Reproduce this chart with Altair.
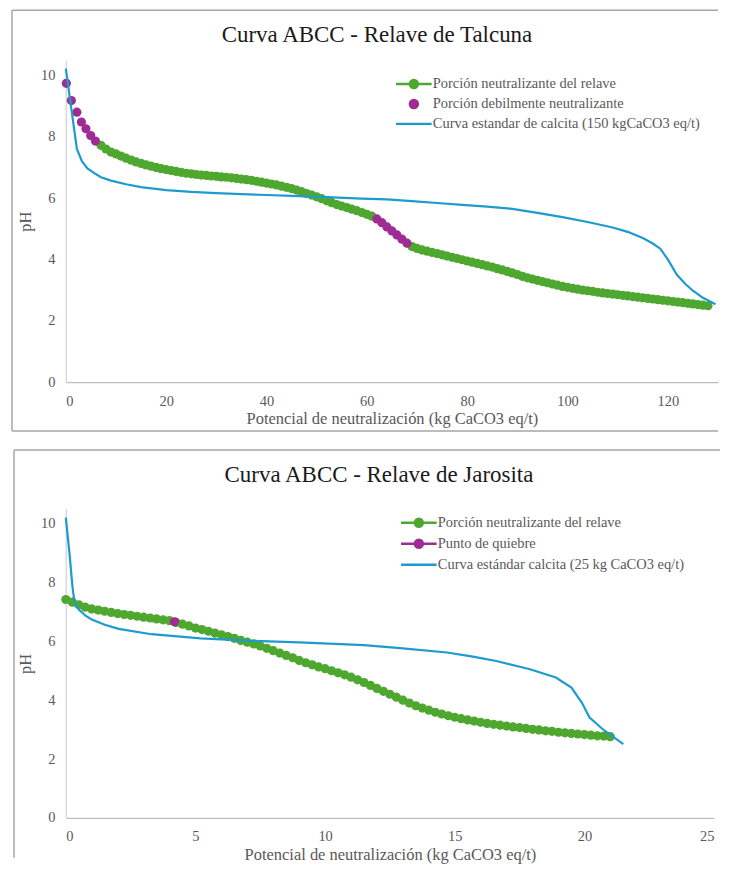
import altair as alt
import pandas as pd

# ---------------- Talcuna (top) ----------------
tal_green_x = list(range(7, 62)) + list(range(69, 129))
tal_green_ph = [
    7.72, 7.60, 7.50, 7.44, 7.37, 7.30, 7.24, 7.18, 7.13, 7.08,
    7.04, 7.00, 6.96, 6.93, 6.90, 6.87, 6.84, 6.81, 6.79, 6.77,
    6.75, 6.74, 6.72, 6.71, 6.69, 6.68, 6.66, 6.64, 6.62, 6.60,
    6.58, 6.55, 6.52, 6.49, 6.46, 6.43, 6.39, 6.35, 6.31, 6.26,
    6.21, 6.15, 6.10, 6.04, 5.98, 5.91, 5.85, 5.79, 5.74, 5.69,
    5.64, 5.59, 5.53, 5.47, 5.41,
    4.42, 4.36, 4.31, 4.27, 4.23, 4.19, 4.15, 4.11, 4.07, 4.03,
    3.99, 3.95, 3.91, 3.87, 3.83, 3.79, 3.75, 3.70, 3.66, 3.61,
    3.56, 3.51, 3.45, 3.40, 3.36, 3.32, 3.28, 3.24, 3.20, 3.16,
    3.12, 3.09, 3.06, 3.03, 3.00, 2.98, 2.96, 2.93, 2.91, 2.89,
    2.87, 2.85, 2.83, 2.81, 2.79, 2.77, 2.75, 2.73, 2.71, 2.69,
    2.67, 2.65, 2.63, 2.61, 2.59, 2.57, 2.55, 2.53, 2.51, 2.49,
]
tal_purple_x = [0.1, 1.1, 2.2, 3.1, 4.0, 4.95, 5.9, 62, 63, 64, 65, 66, 67, 68]
tal_purple_ph = [9.74, 9.18, 8.80, 8.48, 8.26, 8.04, 7.86, 5.32, 5.20, 5.06, 4.93, 4.80, 4.66, 4.53]
tal_blue_x = [0, 2.2, 3.2, 4.3, 5.6, 7, 9, 12, 15, 20, 25, 30, 35, 40, 45, 52, 59, 64, 69, 74,
              79, 84, 89, 94, 99, 104, 109, 112, 115, 117, 118.5, 120, 121.8, 123.5, 125, 127, 129.5]
tal_blue_ph = [10.22, 7.60, 7.20, 6.97, 6.82, 6.68, 6.57, 6.45, 6.36, 6.26, 6.20, 6.16, 6.13, 6.10,
               6.07, 6.03, 5.98, 5.96, 5.90, 5.84, 5.78, 5.72, 5.65, 5.52, 5.38, 5.22, 5.04, 4.90,
               4.70, 4.52, 4.35, 4.00, 3.50, 3.20, 2.98, 2.75, 2.54]
tal_names = ["Porción neutralizante del relave", "Porción debilmente neutralizante",
             "Curva estandar de calcita (150 kgCaCO3 eq/t)"]

# ---------------- Jarosita (bottom) ----------------
jar_green_x = [i * 0.25 for i in range(0, 85)]
jar_green_ph = [
    7.42, 7.33, 7.24, 7.16, 7.10, 7.06, 7.02, 6.98, 6.94, 6.91,
    6.88, 6.85, 6.82, 6.79, 6.76, 6.73, 6.70, 6.64, 6.58, 6.52,
    6.45, 6.40, 6.34, 6.28, 6.22, 6.16, 6.10, 6.03, 5.97, 5.91,
    5.84, 5.76, 5.68, 5.60, 5.52, 5.44, 5.35, 5.27, 5.20, 5.13,
    5.07, 5.00, 4.93, 4.86, 4.78, 4.69, 4.60, 4.50, 4.40, 4.30,
    4.20, 4.10, 4.00, 3.90, 3.81, 3.73, 3.66, 3.59, 3.53, 3.47,
    3.42, 3.37, 3.33, 3.29, 3.25, 3.21, 3.18, 3.15, 3.12, 3.09,
    3.07, 3.04, 3.01, 2.99, 2.96, 2.94, 2.91, 2.89, 2.87, 2.85,
    2.83, 2.81, 2.79, 2.78, 2.76,
]
jar_purple_x = [4.19]
jar_purple_ph = [6.66]
jar_blue_x = [0, 0.15, 0.25, 0.33, 0.5, 0.77, 1.0, 1.5, 2.04, 3.3, 5.2, 7, 9, 11.5, 13, 14.7,
              15.7, 16.6, 17.9, 18.9, 19.5, 19.9, 20.2, 20.7, 21.5]
jar_blue_ph = [10.2, 8.9, 7.9, 7.35, 7.08, 6.86, 6.74, 6.56, 6.42, 6.24, 6.10, 6.02, 5.96, 5.87,
               5.76, 5.62, 5.48, 5.33, 5.05, 4.77, 4.43, 3.92, 3.41, 3.02, 2.51]
jar_names = ["Porción neutralizante del relave", "Punto de quiebre",
             "Curva estándar calcita (25 kg CaCO3 eq/t)"]

GREEN = "#4EA72E"
PURPLE = "#A02B93"
BLUE = "#1D9BCF"
SERIF = "Times New Roman, Liberation Serif, serif"
GREY = "#595959"
FRAME = "#A6A6A6"

P_LINECIRC = "M-2.1,0L2.1,0M0.47,0A0.47,0.47,0,1,1,-0.47,0A0.47,0.47,0,1,1,0.47,0Z"
P_CIRC = "M0.47,0A0.47,0.47,0,1,1,-0.47,0A0.47,0.47,0,1,1,0.47,0Z"
P_LINE = "M-2.1,0L2.1,0"


def panel(names, gx, gy, px, py, bx, by, shapes, xdom, xvals, w, h,
          title, title_x, title_y, lx, ly, rowpad, frame, bottom_edge, label_pad, title_pad):
    xenc = alt.X("x:Q", scale=alt.Scale(domain=xdom, nice=False, zero=False),
                 axis=alt.Axis(values=xvals, title="Potencial de neutralización (kg CaCO3 eq/t)",
                               grid=False, ticks=False, domainColor="#BFBFBF", domainWidth=1.2,
                               labelFont=SERIF, labelFontSize=14.5, labelColor=GREY,
                               labelPadding=label_pad, titleFont=SERIF, titleFontSize=16.5,
                               titleColor=GREY, titleFontWeight="normal", titlePadding=title_pad))
    yenc = alt.Y("ph:Q", scale=alt.Scale(domain=[0, 10.5], nice=False),
                 axis=alt.Axis(values=[0, 2, 4, 6, 8, 10], title="pH", grid=False, ticks=False,
                               domainColor="#D9D9D9", domainWidth=1.5,
                               labelFont=SERIF, labelFontSize=14.5, labelColor=GREY,
                               labelPadding=11, titleFont=SERIF, titleFontSize=16.5,
                               titleColor=GREY, titleFontWeight="normal", titlePadding=7))

    g = pd.DataFrame({"x": gx, "ph": gy})
    p = pd.DataFrame({"x": px, "ph": py})
    b = pd.DataFrame({"x": bx, "ph": by})

    gline = alt.Chart(g).mark_line(strokeWidth=3, color=GREEN).encode(x=xenc, y=yenc)
    gpts = alt.Chart(g).mark_circle(size=85, opacity=1, color=GREEN).encode(x=xenc, y=yenc)
    ppts = alt.Chart(p).mark_circle(size=85, opacity=1, color=PURPLE).encode(x=xenc, y=yenc)
    bline = alt.Chart(b).mark_line(strokeWidth=2.2, color=BLUE).encode(x=xenc, y=yenc)

    # legend carrier: its points fall outside the clipped plot; only the legend shows
    leg_df = pd.DataFrame({"serie": names, "x": [xdom[0] - 1000] * 3, "ph": [0, 0, 0]})
    legend = alt.Legend(
        orient="none", legendX=lx, legendY=ly, title=None, padding=0,
        symbolSize=289, symbolStrokeWidth=2.5, symbolOpacity=1,
        labelFont=SERIF, labelFontSize=14.5, labelColor=GREY,
        labelLimit=500, labelOffset=9, rowPadding=rowpad,
    )
    leg = alt.Chart(leg_df).mark_point(clip=True, filled=False, size=289, strokeWidth=2.5,
                                       opacity=1).encode(
        x=xenc, y=yenc,
        color=alt.Color("serie:N", scale=alt.Scale(domain=names, range=[GREEN, PURPLE, BLUE]),
                        legend=legend),
        fill=alt.Fill("serie:N", scale=alt.Scale(domain=names,
                                                 range=[GREEN, PURPLE, "transparent"]),
                      legend=legend),
        shape=alt.Shape("serie:N", scale=alt.Scale(domain=names, range=shapes), legend=legend),
    )

    one = pd.DataFrame({"k": [0]})
    fl, ft, fr, fb = frame
    rules = [
        alt.Chart(one).mark_rule(color=FRAME, strokeWidth=1.5).encode(
            x=alt.value(fl), y=alt.value(ft), y2=alt.value(fb)),
        alt.Chart(one).mark_rule(color=FRAME, strokeWidth=1.5).encode(
            x=alt.value(fl), x2=alt.value(fr), y=alt.value(ft)),
    ]
    if bottom_edge:
        rules.append(alt.Chart(one).mark_rule(color=FRAME, strokeWidth=1.5).encode(
            x=alt.value(fl), x2=alt.value(fr), y=alt.value(fb)))
    ttl = alt.Chart(pd.DataFrame({"t": [title]})).mark_text(
        font=SERIF, fontSize=23, color="#1A1A1A", align="center", baseline="middle"
    ).encode(text="t:N", x=alt.value(title_x), y=alt.value(title_y))

    return alt.layer(*rules, ttl, gline, gpts, ppts, bline, leg).properties(width=w, height=h)


top = panel(tal_names, tal_green_x, tal_green_ph, tal_purple_x, tal_purple_ph,
            tal_blue_x, tal_blue_ph, [P_LINECIRC, P_CIRC, P_LINE], [0, 130],
            [0, 20, 40, 60, 80, 100, 120], 654, 323,
            "Curva ABCC - Relave de Talcuna", 312, -25, 339, 14, 1,
            (-54, -50, 654, 372), True, 12, 3)

bottom = panel(jar_names, jar_green_x, jar_green_ph, jar_purple_x, jar_purple_ph,
               jar_blue_x, jar_blue_ph, [P_LINECIRC, P_LINECIRC, P_LINE], [0, 25],
               [0, 5, 10, 15, 20, 25], 650, 310,
               "Curva ABCC - Relave de Jarosita", 314, -34, 344, 4, 2,
               (-52, -59, 656, 350), False, 12, 3)

chart = alt.vconcat(top, bottom, spacing=17).resolve_scale(
    color="independent", fill="independent", shape="independent",
    x="independent", y="independent"
).properties(
    padding={"left": 3, "top": 0, "right": 0, "bottom": 0}
).configure_view(stroke=None)

chart.save("out.html", embed_options={"renderer": "svg", "actions": False})
